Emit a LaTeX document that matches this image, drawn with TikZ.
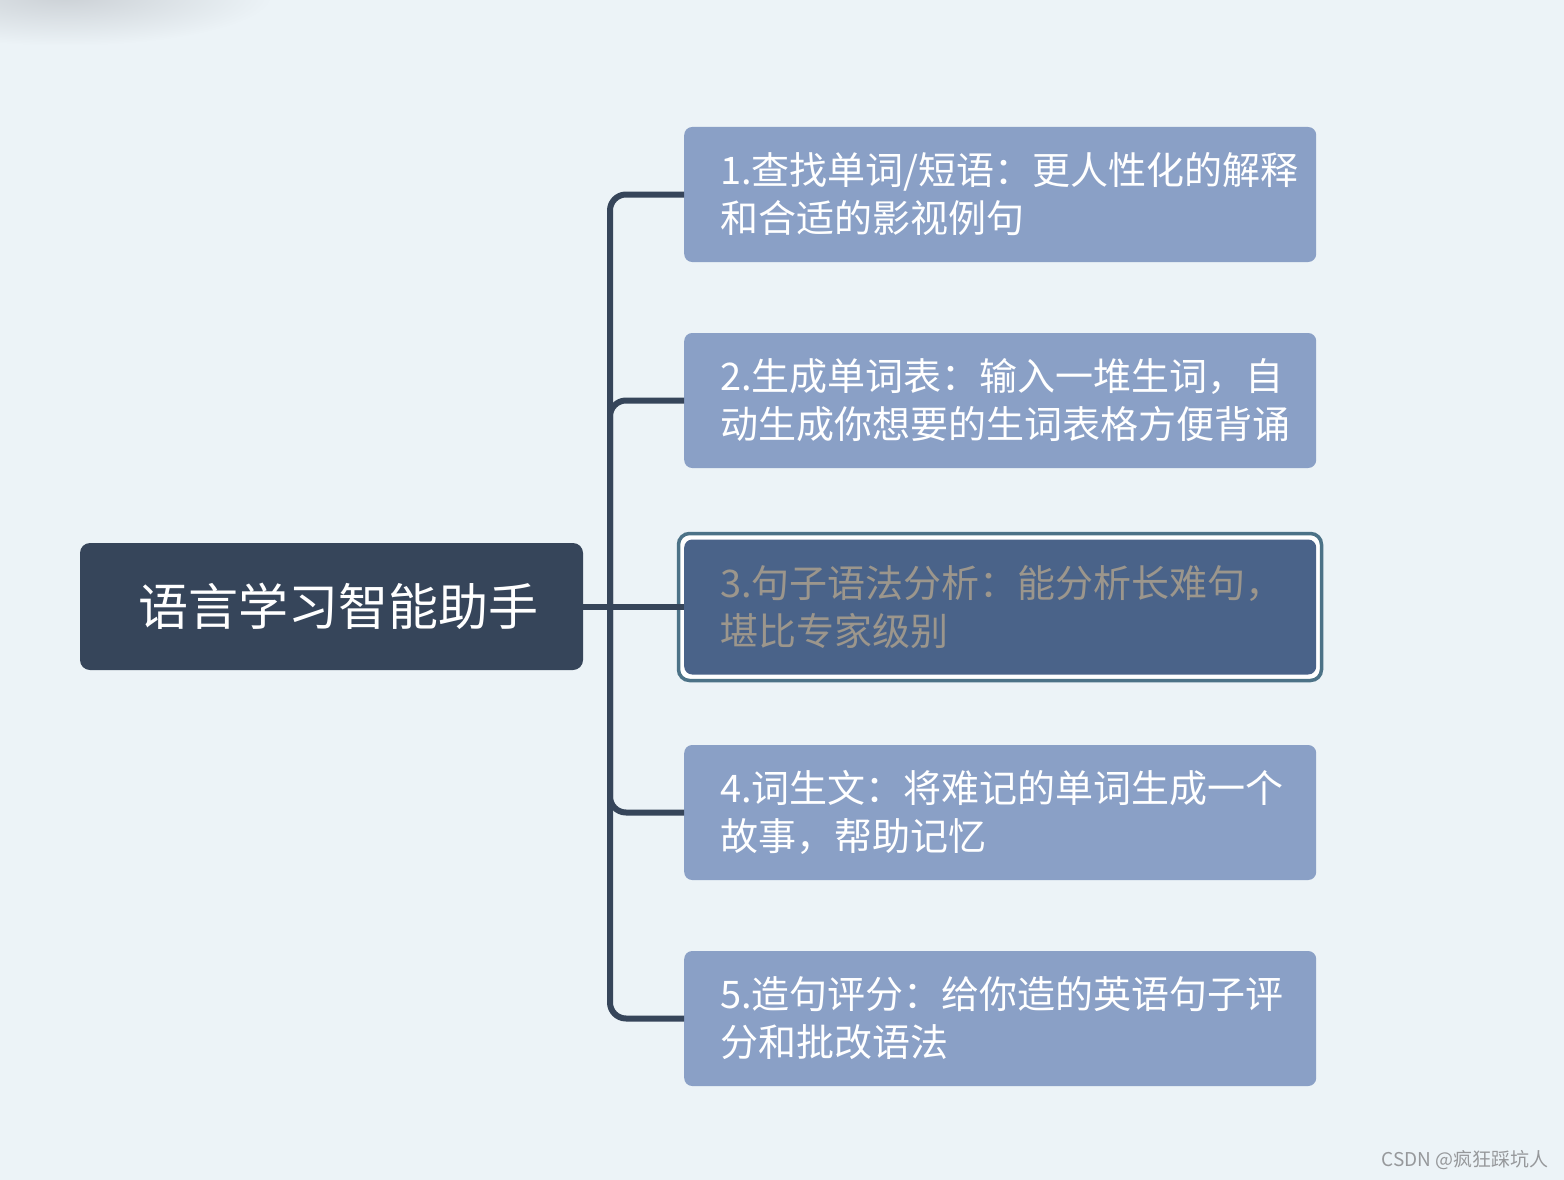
\documentclass[tikz,border=0pt]{standalone}
\usepackage{fontspec}
\setmainfont{Noto Sans CJK SC}
\usetikzlibrary{fadings}
\definecolor{bg}{RGB}{236,243,247}
\definecolor{rootc}{RGB}{54,69,90}
\definecolor{boxc}{RGB}{138,160,198}
\definecolor{selbox}{RGB}{74,99,137}
\definecolor{selline}{RGB}{76,114,135}
\definecolor{seltext}{RGB}{156,150,140}
\definecolor{shc}{RGB}{200,205,210}
\definecolor{wmc}{RGB}{150,152,155}
\tikzfading[name=softglow, inner color=transparent!10, outer color=transparent!100]
\begin{document}
\begin{tikzpicture}[x=1pt,y=-1pt,
  rootbox/.style={fill=rootc, rounded corners=10pt, minimum width=503pt, minimum height=127pt,
    text=white, font=\fontsize{50}{56}\selectfont, inner sep=0pt},
  leaf/.style={fill=boxc, rounded corners=8pt, anchor=west, minimum height=135pt,
    text width=560pt, inner xsep=36pt, inner ysep=0pt, align=left, text=white,
    font=\fontsize{38}{48}\selectfont},
  conn/.style={draw=rootc, line width=6pt, rounded corners=16pt},
  wm/.style={text=wmc, font=\fontsize{19}{22}\selectfont, inner sep=0pt}]
\useasboundingbox (0,0) rectangle (1564,1180);
\fill[bg] (0,0) rectangle (1564,1180);
\fill[shc, path fading=softglow] (-140,-55) rectangle (270,45);

\node[rootbox] (root) at (331.5,606.5) {\raisebox{-4pt}{\hspace*{14pt}语言学习智能助手}};

\node[leaf] (b1) at (684,194.5) {1.查找单词/短语：更人性化的解释\\和合适的影视例句};
\node[leaf] (b2) at (684,400.5) {2.生成单词表：输入一堆生词，自\\动生成你想要的生词表格方便背诵};
\draw[line width=3.5pt, draw=selline, fill=white, rounded corners=11pt] (678.5,533.5) rectangle (1321.5,680.5);
\node[leaf, fill=selbox, text=seltext] (b3) at (684,607) {3.句子语法分析：能分析长难句，\\堪比专家级别};
\node[leaf] (b4) at (684,812.5) {4.词生文：将难记的单词生成一个\\故事，帮助记忆};
\node[leaf] (b5) at (684,1018.5) {5.造句评分：给你造的英语句子评\\分和批改语法};

\coordinate (tr) at (610,606.5);
\draw[conn] (root.east) -- (b3.west |- root.east);
\draw[conn] (b1.west) -| (tr) |- (b5.west);
\draw[conn] (b2.west) -| (tr);
\draw[conn] (b4.west) -| (tr);

\node[wm, anchor=east] (wmark) at (1549,1160) {CSDN @疯狂踩坑人};
\end{tikzpicture}
\end{document}
